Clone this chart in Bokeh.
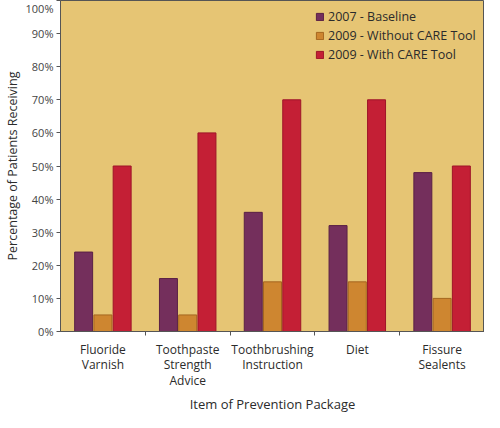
from bokeh.plotting import figure
from bokeh.models import FixedTicker, Range1d, Legend, LegendItem, ColumnDataSource, Title
from bokeh.embed import file_html
from bokeh.resources import INLINE

categories = ["Fluoride\nVarnish", "Toothpaste\nStrength\nAdvice", "Toothbrushing\nInstruction", "Diet", "Fissure\nSealents"]
series_names = ["2007 - Baseline", "2009 - Without CARE Tool", "2009 - With CARE Tool"]
baseline_2007 = [24, 16, 36, 32, 48]
without_care_2009 = [5, 5, 15, 15, 10]
with_care_2009 = [50, 60, 70, 70, 50]
y_ticks = [0, 10, 20, 30, 40, 50, 60, 70, 80, 90, 100]
x_title = "Item of Prevention Package"
y_title = "Percentage of Patients Receiving"

series = [baseline_2007, without_care_2009, with_care_2009]
fills = ["#742F5C", "#CE8630", "#C41F35"]
edges = ["#5A2045", "#A5661F", "#9E1528"]
offsets = [-0.227, 0.0, 0.227]
bar_w = 0.212

FONT = "Open Sans"
TXT = "#2b2b2b"

p = figure(width=484, height=412, output_backend="svg", toolbar_location=None,
           x_range=Range1d(0, 5), y_range=Range1d(0, 100))
p.min_border_left = 0
p.min_border_top = 0
p.min_border_right = 0
p.min_border_bottom = 78
p.background_fill_color = "#E6C574"
p.border_fill_color = "white"
p.outline_line_color = "#555555"
p.outline_line_width = 1
p.grid.visible = False

items = []
for i, (vals, name) in enumerate(zip(series, series_names)):
    xs = [k + 0.5 + offsets[i] for k in range(len(vals))]
    src = ColumnDataSource(dict(x=xs, top=vals))
    r = p.vbar(x="x", top="top", bottom=0, width=bar_w, source=src,
               fill_color=fills[i], line_color=edges[i], line_width=1)
    items.append(LegendItem(label=name, renderers=[r]))

legend = Legend(items=items, location="top_right")
legend.background_fill_alpha = 0
legend.border_line_color = None
legend.label_text_font = FONT
legend.label_text_font_size = "12.5px"
legend.label_text_color = TXT
legend.glyph_width = 9
legend.glyph_height = 9
legend.label_height = 17
legend.label_width = 148
legend.spacing = 2
legend.margin = 8
legend.padding = 2
legend.label_standoff = 4
p.add_layout(legend, "center")

# y axis
p.yaxis.ticker = FixedTicker(ticks=y_ticks)
p.yaxis.major_label_overrides = {t: f"{t}%" for t in y_ticks}
p.yaxis.minor_tick_line_color = None
p.yaxis.major_tick_in = 0
p.yaxis.major_tick_out = 4
p.yaxis.major_label_standoff = 3
p.yaxis.axis_label = y_title
p.yaxis.axis_label_text_font = FONT
p.yaxis.axis_label_text_font_style = "normal"
p.yaxis.axis_label_text_font_size = "12.5px"
p.yaxis.axis_label_text_color = TXT
p.yaxis.axis_label_standoff = 2
p.yaxis.major_label_text_font = FONT
p.yaxis.major_label_text_font_size = "11px"
p.yaxis.major_label_text_color = "#444444"
p.yaxis.axis_line_color = "#555555"
p.yaxis.major_tick_line_color = "#555555"

# x axis
p.xaxis.ticker = FixedTicker(ticks=[k + 0.5 for k in range(len(categories))],
                             minor_ticks=list(range(1, len(categories))))
p.xaxis.major_label_overrides = {k + 0.5: c for k, c in enumerate(categories)}
p.xaxis.major_tick_line_color = None
p.xaxis.major_tick_in = 0
p.xaxis.major_tick_out = 0
p.xaxis.minor_tick_in = 0
p.xaxis.minor_tick_out = 4
p.xaxis.minor_tick_line_color = "#555555"
p.xaxis.major_label_standoff = 5
p.xaxis.major_label_text_font = FONT
p.xaxis.major_label_text_font_size = "12px"
p.xaxis.major_label_text_line_height = 0.93
p.xaxis.major_label_text_color = TXT
p.xaxis.axis_line_color = "#555555"

xt = Title(text=x_title, align="center", text_font=FONT, text_font_size="13px",
           text_font_style="normal", text_color=TXT, standoff=0)
p.add_layout(xt, "below")

open("out.html", "w").write(file_html(p, INLINE))
